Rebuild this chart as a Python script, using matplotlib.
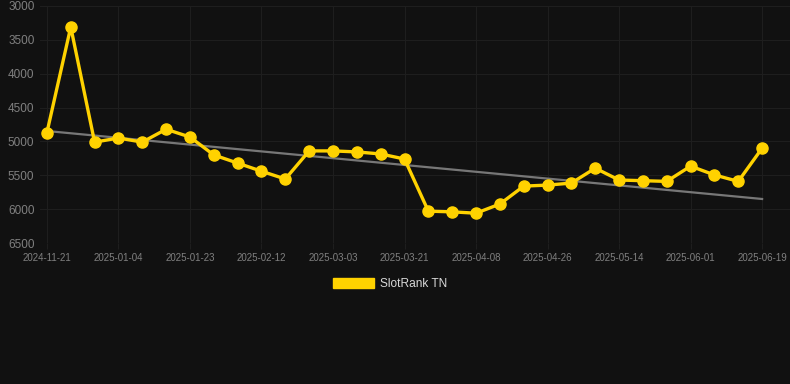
import numpy as np
import matplotlib
matplotlib.use("Agg")
import matplotlib.pyplot as plt
from matplotlib.patches import Patch

# weekly snapshots (category axis, every 3rd label shown)
dates = [
    "2024-11-21", "2024-12-06", "2024-12-20", "2025-01-04", "2025-01-10", "2025-01-17",
    "2025-01-23", "2025-01-30", "2025-02-05", "2025-02-12", "2025-02-18", "2025-02-25",
    "2025-03-03", "2025-03-09", "2025-03-15", "2025-03-21", "2025-03-27", "2025-04-02",
    "2025-04-08", "2025-04-14", "2025-04-20", "2025-04-26", "2025-05-02", "2025-05-08",
    "2025-05-14", "2025-05-20", "2025-05-26", "2025-06-01", "2025-06-07", "2025-06-13",
    "2025-06-19",
]
rank = [
    4870, 3310, 5010, 4950, 5010, 4820, 4935, 5200, 5320, 5440, 5555, 5140,
    5140, 5155, 5185, 5260, 6030, 6040, 6060, 5925, 5660, 5645, 5615, 5395,
    5570, 5580, 5590, 5365, 5495, 5590, 5100,
]
# trend line endpoints as drawn in the source chart
trend = [4846, 5850]
y_ticks = [3000, 3500, 4000, 4500, 5000, 5500, 6000, 6500]

BG = "#111111"
GOLD = "#FFD200"
plt.rcParams["font.family"] = ["Liberation Sans", "DejaVu Sans"]

fig = plt.figure(figsize=(7.9, 3.84), dpi=100)
fig.set_facecolor(BG)
ax = fig.add_axes([40 / 790, 1 - 243 / 384, 750 / 790, 237 / 384])
ax.set_facecolor(BG)

x = np.arange(len(rank))
ax.plot([x[0], x[-1]], trend, color="#777777", linewidth=1.6, zorder=2)
ax.plot(x, rank, color=GOLD, linewidth=2.4, marker="o", markersize=8,
        markerfacecolor=GOLD, markeredgecolor=GOLD, zorder=3)

ax.set_ylim(6500, 3000)
ax.set_yticks(y_ticks)
ax.set_xlim(-0.29, 31.17)
ax.set_xticks(x[::3])
ax.set_xticklabels(dates[::3])

ax.grid(True, color="#1e1e1e", linewidth=0.8)
for s in ax.spines.values():
    s.set_visible(False)
ax.tick_params(axis="y", colors="#808080", labelsize=8.5, length=0, pad=4)
ax.tick_params(axis="x", color="#1e1e1e", labelcolor="#808080", labelsize=7,
               length=4, pad=3)

fig.legend(handles=[Patch(facecolor=GOLD, edgecolor=GOLD, label="SlotRank TN")],
           loc="center", bbox_to_anchor=(390 / 790, 1 - 284 / 384),
           frameon=False, fontsize=8.6, labelcolor="#d8d8d8",
           handlelength=3.4, handleheight=0.9, handletextpad=0.5)

fig.savefig("out.png", dpi=100, facecolor=BG)
